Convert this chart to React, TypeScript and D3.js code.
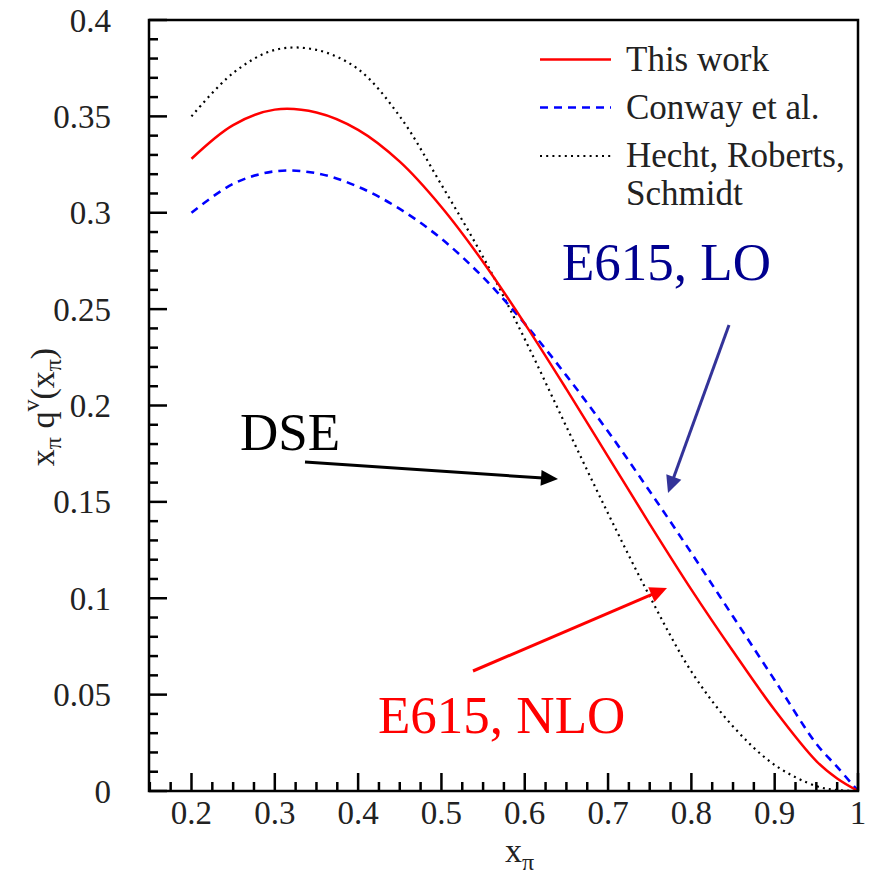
import React from "react";
import * as d3 from "d3";

const xs = [0.2, 0.25, 0.3, 0.35, 0.4, 0.45, 0.5, 0.55, 0.6, 0.65, 0.7, 0.75, 0.8, 0.85, 0.9, 0.95, 0.975, 1.0];
const thisWork = [0.328, 0.3455, 0.3535, 0.352, 0.343, 0.3265, 0.303, 0.2745, 0.2425, 0.2085, 0.1735, 0.1385, 0.1045, 0.0725, 0.042, 0.0155, 0.0065, 0];
const conway = [0.300, 0.315, 0.3215, 0.3205, 0.3135, 0.302, 0.2865, 0.2665, 0.2425, 0.2155, 0.1865, 0.1555, 0.1235, 0.0905, 0.0575, 0.0245, 0.0125, 0];
const hecht = [0.350, 0.3725, 0.3845, 0.3845, 0.3745, 0.350, 0.3145, 0.277, 0.2345, 0.189, 0.144, 0.101, 0.062, 0.0335, 0.0135, 0.0025, 0.0005, 0];

const xTickLabels = ["0.2", "0.3", "0.4", "0.5", "0.6", "0.7", "0.8", "0.9", "1"];
const yTickLabels = ["0", "0.05", "0.1", "0.15", "0.2", "0.25", "0.3", "0.35", "0.4"];
const legendLabels = ["This work", "Conway et al.", "Hecht, Roberts,", "Schmidt"];

const FONT = "Liberation Serif, Times New Roman, serif";

function Arrow({ x1, y1, x2, y2, color }: { x1: number; y1: number; x2: number; y2: number; color: string }) {
  const L = 17, W = 8;
  const dx = x2 - x1, dy = y2 - y1;
  const len = Math.sqrt(dx * dx + dy * dy);
  const ux = dx / len, uy = dy / len;
  const bx = x2 - ux * L, by = y2 - uy * L;
  const px = -uy, py = ux;
  const pts = `${x2},${y2} ${bx + px * W},${by + py * W} ${bx - px * W},${by - py * W}`;
  return (
    <g>
      <line x1={x1} y1={y1} x2={bx + ux * 2} y2={by + uy * 2} stroke={color} strokeWidth={3} />
      <polygon points={pts} fill={color} />
    </g>
  );
}

const T = (props: any) => <text {...props} style={{ fontFamily: FONT }} />;

export default function App() {
  const left = 149, right = 858, top = 20, bottom = 791;
  const x = d3.scaleLinear().domain([0.149, 1.0]).range([left, right]);
  const y = d3.scaleLinear().domain([0, 0.4]).range([bottom, top]);

  const line = (vals: number[]) =>
    d3.line<number>()
      .x((_, i) => x(xs[i]))
      .y((v) => y(v))
      .curve(d3.curveCatmullRom.alpha(0.5))(vals) || "";

  const yMinor = d3.range(0, 41).map((i) => i * 0.01);
  const xMinor = d3.range(0, 35).map((i) => 0.15 + i * 0.025).filter((v) => v > 0.149 && v <= 1.0001);

  return (
    <svg width={874} height={887} style={{ position: "absolute", left: 0, top: 0, background: "#fff", fontFamily: FONT }}>
      <rect x={0} y={0} width={874} height={887} fill="#fff" />
      {/* curves */}
      <path d={line(hecht)} fill="none" stroke="#000" strokeWidth={2.2} strokeDasharray="2,4.2" />
      <path d={line(conway)} fill="none" stroke="#0000ff" strokeWidth={2.6} strokeDasharray="8,6" />
      <path d={line(thisWork)} fill="none" stroke="#ff0000" strokeWidth={2.5} />

      {/* frame */}
      <rect x={left} y={top} width={right - left} height={bottom - top} fill="none" stroke="#000" strokeWidth={2.5} />

      {/* y ticks */}
      {yMinor.map((v, i) => {
        const major = i % 5 === 0;
        return <line key={"ym" + i} x1={left} x2={left + (major ? 18 : 9)} y1={y(v)} y2={y(v)} stroke="#000" strokeWidth={2.5} />;
      })}
      {yTickLabels.map((t, i) => (
        <T key={"yl" + i} x={111} y={y(i * 0.05)} dy="0.35em" textAnchor="end" fontSize={33} fill="#222">{t}</T>
      ))}

      {/* x ticks */}
      {xMinor.map((v, i) => {
        const major = Math.abs(v * 10 - Math.round(v * 10)) < 1e-6;
        return <line key={"xm" + i} x1={x(v)} x2={x(v)} y1={bottom} y2={bottom - (major ? 18 : 9)} stroke="#000" strokeWidth={2.5} />;
      })}
      {xTickLabels.map((t, i) => (
        <T key={"xl" + i} x={x(0.2 + i * 0.1)} y={824} textAnchor="middle" fontSize={33} fill="#222">{t}</T>
      ))}

      {/* axis titles */}
      <T x={505} y={862} fontSize={34} fill="#222">
        x<tspan dy={8} fontSize={24}>π</tspan>
      </T>
      <g transform="translate(54,407) rotate(-90)">
        <T x={0} y={0} textAnchor="middle" fontSize={34} fill="#222">
          x<tspan dy={7} fontSize={24}>π</tspan>
          <tspan dy={-7}> q</tspan>
          <tspan dy={-15} fontSize={24}>v</tspan>
          <tspan dy={15}>(x</tspan>
          <tspan dy={7} fontSize={24}>π</tspan>
          <tspan dy={-7}>)</tspan>
        </T>
      </g>

      {/* legend */}
      <line x1={540} x2={611} y1={59.5} y2={59.5} stroke="#ff0000" strokeWidth={2.5} />
      <line x1={540} x2={611} y1={107.5} y2={107.5} stroke="#0000ff" strokeWidth={2.6} strokeDasharray="8,6" />
      <line x1={540} x2={611} y1={156} y2={156} stroke="#000" strokeWidth={2.2} strokeDasharray="2,4.2" />
      <T x={626} y={71} fontSize={35} fill="#222">{legendLabels[0]}</T>
      <T x={626} y={119} fontSize={35} fill="#222">{legendLabels[1]}</T>
      <T x={626} y={167} fontSize={35} fill="#222">{legendLabels[2]}</T>
      <T x={626} y={205} fontSize={35} fill="#222">{legendLabels[3]}</T>

      {/* annotations */}
      <T x={562} y={280} fontSize={53} fill="#00008f">E615, LO</T>
      <T x={240} y={450} fontSize={53} fill="#000">DSE</T>
      <T x={378} y={733} fontSize={53} fill="#ff0000">E615, NLO</T>

      <Arrow x1={305} y1={462} x2={558} y2={479} color="#000" />
      <Arrow x1={729} y1={325} x2={668} y2={493} color="#333399" />
      <Arrow x1={473} y1={671} x2={667} y2={588} color="#ff0000" />
    </svg>
  );
}
